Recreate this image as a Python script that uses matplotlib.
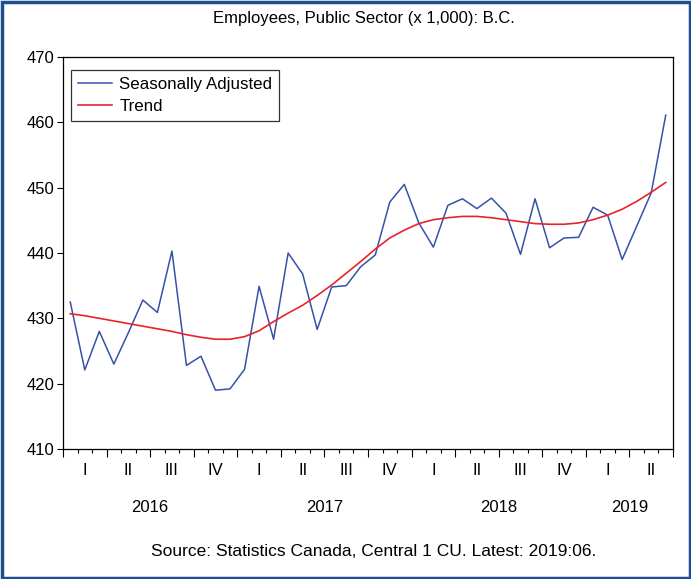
import matplotlib
matplotlib.use("Agg")
import matplotlib.pyplot as plt
from matplotlib.patches import Rectangle
from matplotlib.transforms import blended_transform_factory
import numpy as np

plt.rcParams['font.family'] = ['Liberation Sans', 'DejaVu Sans']

title = "Employees, Public Sector (x 1,000): B.C."
source = "Source: Statistics Canada, Central 1 CU. Latest: 2019:06."
years = ["2016", "2017", "2018", "2019"]
quarters = ["I", "II", "III", "IV"]

seasonally_adjusted = [
    432.5, 422.1, 428.0, 423.0, 427.8, 432.8, 430.9, 440.3, 422.8, 424.2, 419.0, 419.2,
    422.2, 434.9, 426.8, 440.0, 436.8, 428.3, 434.8, 435.0, 437.9, 439.7, 447.8, 450.5,
    444.6, 440.9, 447.3, 448.3, 446.8, 448.4, 446.1, 439.8, 448.3, 440.8, 442.3, 442.4,
    447.0, 445.8, 439.0, 444.1, 449.2, 461.1,
]
trend = [
    430.7, 430.4, 430.0, 429.6, 429.2, 428.8, 428.4, 428.0, 427.5, 427.1, 426.8, 426.8,
    427.2, 428.1, 429.5, 430.8, 432.0, 433.5, 435.1, 436.9, 438.7, 440.6, 442.3, 443.5,
    444.5, 445.1, 445.4, 445.6, 445.6, 445.4, 445.1, 444.8, 444.5, 444.4, 444.4, 444.6,
    445.1, 445.8, 446.7, 447.9, 449.3, 450.8,
]

n = len(seasonally_adjusted)
x = np.arange(n)

fig = plt.figure(figsize=(6.91, 5.79), dpi=100)
W, H = 691, 579
ax = fig.add_axes([63 / W, 1 - 449 / H, (673 - 63) / W, (449 - 57) / H])

ax.plot(x, seasonally_adjusted, color='#3552A8', lw=1.1, label='Seasonally Adjusted')
ax.plot(x, trend, color='#E8232B', lw=1.2, label='Trend')

ax.set_xlim(-0.5, n - 0.5)
ax.set_ylim(410, 470)
ax.set_yticks(np.arange(410, 471, 10))
ax.tick_params(axis='y', direction='out', length=4, width=0.8, labelsize=12, pad=2)

# x ticks: month boundaries (minor), quarter boundaries (major)
ax.set_xticks(np.arange(-0.5, n, 3))
ax.set_xticks(np.arange(-0.5, n, 1), minor=True)
ax.set_xticklabels([])
ax.tick_params(axis='x', which='major', direction='out', length=6, width=0.8)
ax.tick_params(axis='x', which='minor', direction='out', length=3, width=0.8)
for s in ax.spines.values():
    s.set_linewidth(0.9)

trans = blended_transform_factory(ax.transData, ax.transAxes)
# quarter labels
for qi in range(int(np.ceil(n / 3))):
    center = qi * 3 + 1
    ax.text(center, -0.055, quarters[qi % 4], transform=trans, ha='center', va='center', fontsize=12)
# year labels
for yi, yr in enumerate(years):
    start = yi * 12
    end = min(start + 12, n)
    ax.text((start + end - 1) / 2, -0.15, yr, transform=trans, ha='center', va='center', fontsize=12)

fig.text(364 / W, 1 - 18 / H, title, ha='center', va='center', fontsize=12)
fig.text(374 / W, 1 - 552 / H, source, ha='center', va='center', fontsize=12.5)

leg = ax.legend(loc='upper left', bbox_to_anchor=(0.013, 0.967), frameon=True, fancybox=False,
                shadow=False, fontsize=12.2, handlelength=2.0, borderpad=0.4, labelspacing=0.45,
                handletextpad=0.45, borderaxespad=0.0)
leg.get_frame().set_edgecolor('black')
leg.get_frame().set_linewidth(0.9)

# outer border
fig.patches.append(Rectangle((1.5 / W, 1.5 / H), 1 - 3 / W, 1 - 3 / H, transform=fig.transFigure,
                             fill=False, edgecolor='#1F4E8C', linewidth=2.5))

fig.savefig('out.png', dpi=100)
